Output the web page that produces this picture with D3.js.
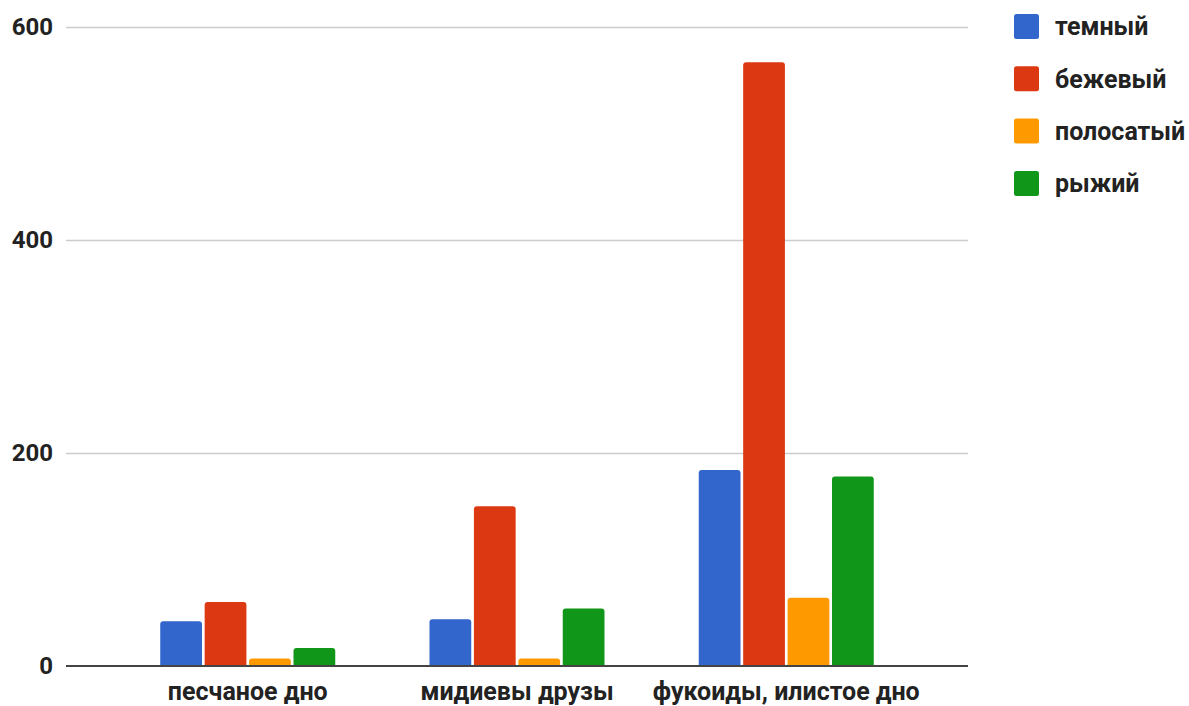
<!DOCTYPE html>
<html>
<head>
<meta charset="utf-8">
<script src="https://cdn.jsdelivr.net/npm/d3@7/dist/d3.min.js"></script>
<style>
  html, body { margin: 0; padding: 0; background: #fff; }
  svg { display: block; }
  text { font-family: Roboto, "Noto Sans", sans-serif; font-weight: 700; fill: #222; }
</style>
</head>
<body>
<svg id="chart" width="1189" height="706"></svg>
<script>
// Habitat categories along the x axis
const categories = ["песчаное дно", "мидиевы друзы", "фукоиды, илистое дно"];

// Colour morphs (series) and their colours
const seriesNames = ["темный", "бежевый", "полосатый", "рыжий"];
const seriesColors = ["#3366cc", "#dc3912", "#ff9900", "#109618"];

// Counts per morph, one value per habitat
const temnyi    = [42, 44, 184];
const bezhevyi  = [60, 150, 567];
const polosatyi = [7, 7, 64];
const ryzhii    = [17, 54, 178];

// Y axis ticks
const yTicks = [0, 200, 400, 600];

const seriesValues = [temnyi, bezhevyi, polosatyi, ryzhii];

const svg = d3.select("#chart");

const plotLeft = 66, plotRight = 968, plotTop = 27, plotBottom = 666;

const x0 = d3.scaleBand()
  .domain(categories)
  .range([plotLeft, plotRight])
  .padding(0.35);

const x1 = d3.scaleBand()
  .domain(seriesNames)
  .range([0, x0.bandwidth()])
  .paddingInner(0.06);

const y = d3.scaleLinear()
  .domain([0, 600])
  .range([plotBottom, plotTop]);

const color = d3.scaleOrdinal().domain(seriesNames).range(seriesColors);

// Horizontal gridlines and tick labels
const yAxis = d3.axisLeft(y)
  .tickValues(yTicks)
  .tickSize(-(plotRight - plotLeft))
  .tickPadding(13)
  .tickFormat(d3.format("d"));

const yg = svg.append("g")
  .attr("transform", `translate(${plotLeft},0)`)
  .call(yAxis);
yg.select(".domain").remove();
yg.selectAll(".tick line")
  .attr("stroke", "#cccccc")
  .attr("stroke-width", 1.5)
  .attr("stroke-opacity", d => d === 0 ? 0 : 1);
yg.selectAll(".tick text")
  .attr("font-size", 24)
  .attr("font-family", "Roboto, 'Noto Sans', sans-serif")
  .attr("font-weight", 700)
  .attr("fill", "#222");

// Grouped bars
const rows = categories.map((c, i) => ({
  category: c,
  values: seriesNames.map((s, j) => ({ series: s, value: seriesValues[j][i] }))
}));

const groups = svg.append("g")
  .selectAll("g")
  .data(rows)
  .join("g")
  .attr("transform", d => `translate(${x0(d.category)},0)`);

groups.selectAll("path")
  .data(d => d.values)
  .join("path")
  .attr("fill", d => color(d.series))
  .attr("d", d => {
    const x = x1(d.series), w = x1.bandwidth();
    const top = y(d.value), bottom = y(0);
    const r = Math.min(3, (bottom - top) / 2);
    return `M${x},${bottom}V${top + r}Q${x},${top} ${x + r},${top}` +
           `H${x + w - r}Q${x + w},${top} ${x + w},${top + r}V${bottom}Z`;
  });

// Baseline
svg.append("line")
  .attr("x1", plotLeft).attr("x2", plotRight)
  .attr("y1", y(0)).attr("y2", y(0))
  .attr("stroke", "#444")
  .attr("stroke-width", 2);

// Category axis labels
const xAxis = d3.axisBottom(x0).tickSize(0).tickPadding(16);
const xg = svg.append("g")
  .attr("transform", `translate(0,${plotBottom})`)
  .call(xAxis);
xg.select(".domain").remove();
xg.selectAll(".tick text")
  .attr("font-size", 25)
  .attr("font-family", "Roboto, 'Noto Sans', sans-serif")
  .attr("font-weight", 700)
  .attr("fill", "#222");

// Legend
const legend = svg.append("g")
  .selectAll("g")
  .data(seriesNames)
  .join("g")
  .attr("transform", (d, i) => `translate(1014,${14 + i * 52.3})`);

legend.append("rect")
  .attr("width", 25)
  .attr("height", 25)
  .attr("rx", 2.5)
  .attr("fill", d => color(d));

legend.append("text")
  .attr("x", 41)
  .attr("y", 12.5)
  .attr("dy", "0.35em")
  .attr("font-size", 25)
  .text(d => d);
</script>
</body>
</html>
